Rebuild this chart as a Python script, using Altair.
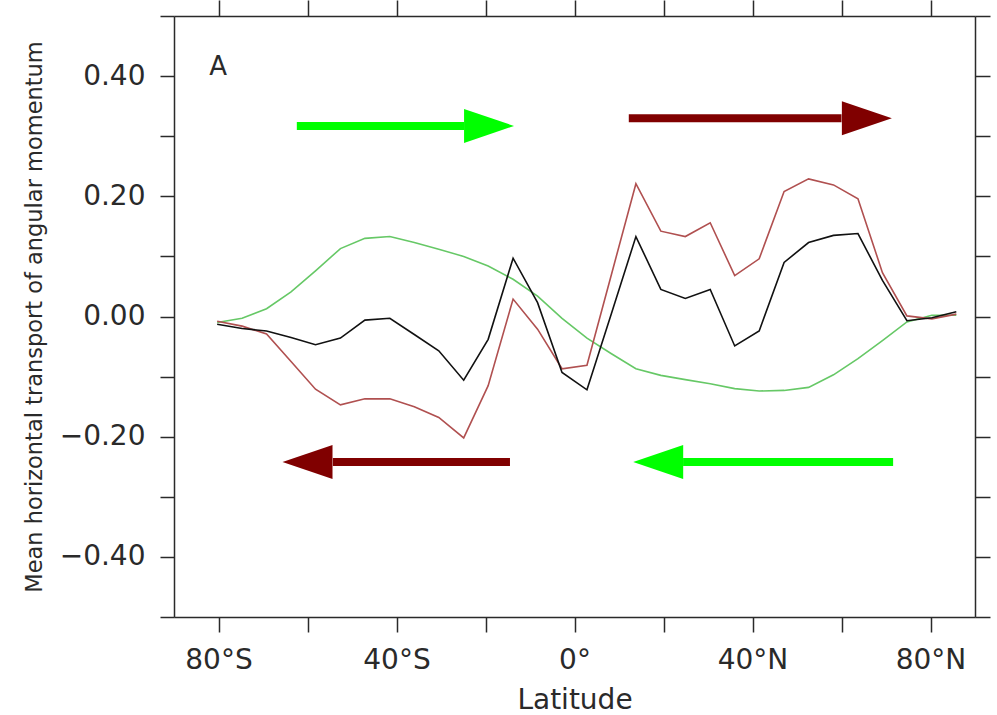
import altair as alt
import pandas as pd

# ---- data ----
lats = [-80.3, -74.7, -69.2, -63.7, -58.2, -52.6, -47.1, -41.5, -36.0, -30.5,
        -24.9, -19.4, -13.8, -8.3, -2.8, 2.8, 8.3, 13.8, 19.4, 24.9,
        30.5, 36.0, 41.5, 47.1, 52.6, 58.2, 63.7, 69.2, 74.7, 80.3, 85.8]

black_vals = [-0.013, -0.020, -0.024, -0.035, -0.047, -0.036, -0.006, -0.003, -0.030, -0.057,
              -0.106, -0.038, 0.097, 0.023, -0.093, -0.122, 0.005, 0.133, 0.045, 0.030,
              0.045, -0.049, -0.024, 0.090, 0.123, 0.135, 0.138, 0.060, -0.007, -0.002, 0.008]

red_vals = [-0.008, -0.016, -0.029, -0.075, -0.121, -0.147, -0.137, -0.137, -0.150, -0.168,
            -0.202, -0.115, 0.029, -0.021, -0.087, -0.081, 0.070, 0.221, 0.142, 0.133,
            0.156, 0.068, 0.096, 0.208, 0.229, 0.219, 0.196, 0.073, 0.001, -0.004, 0.004]

green_vals = [-0.010, -0.003, 0.013, 0.041, 0.076, 0.113, 0.130, 0.133, 0.123, 0.112,
              0.100, 0.084, 0.062, 0.034, -0.003, -0.036, -0.062, -0.087, -0.098, -0.105,
              -0.112, -0.120, -0.124, -0.123, -0.118, -0.097, -0.070, -0.040, -0.009, 0.002, 0.002]

# arrows: shaft start/end latitude, value level, head centre latitude, direction, colour
arrow_start = [-62.4, 12.2, -14.5, 71.6]
arrow_end = [-24.8, 60.0, -54.3, 24.4]
arrow_level = [0.317, 0.330, -0.242, -0.242]
arrow_head = [-19.2, 65.7, -60.0, 18.8]
arrow_dir = ["right", "right", "left", "left"]
arrow_color = ["#00ff00", "#800000", "#800000", "#00ff00"]

x_ticks = [-80, -60, -40, -20, 0, 20, 40, 60, 80]
y_ticks = [-0.5, -0.4, -0.3, -0.2, -0.1, 0.0, 0.1, 0.2, 0.3, 0.4, 0.5]

series_names = ["green", "red", "black"]
series_colors = ["#66c866", "#b05050", "#111111"]

# ---- tables ----
rows = []
for name, vals in zip(series_names, [green_vals, red_vals, black_vals]):
    for la, v in zip(lats, vals):
        rows.append({"lat": la, "value": v, "series": name})
lines_df = pd.DataFrame(rows)

arrows_df = pd.DataFrame({
    "x0": arrow_start, "x1": arrow_end, "y": arrow_level,
    "head": arrow_head, "dir": arrow_dir, "color": arrow_color,
})

FONT = "DejaVu Sans"
AX = "#2a2a2a"

xscale = alt.Scale(domain=[-90, 90], nice=False, zero=False)
yscale = alt.Scale(domain=[-0.5, 0.5], nice=False, zero=False)

x_axis = alt.Axis(
    values=x_ticks, orient="bottom", grid=False, tickSize=15, tickWidth=1.5, tickColor=AX,
    domainColor=AX, domainWidth=1.5, labelFont=FONT, labelFontSize=28,
    labelColor=AX, labelPadding=14, labelFlush=False, labelOverlap=False,
    labelExpr="datum.value % 40 != 0 ? '' : (datum.value == 0 ? '0°' : (datum.value < 0 ? (-datum.value) + '°S' : datum.value + '°N'))",
    title="Latitude", titleFont=FONT, titleFontSize=28, titleFontWeight="normal",
    titleColor=AX, titleX=400.5, titleY=91, titleBaseline="alphabetic", titleAlign="center",
)
y_axis = alt.Axis(
    values=y_ticks, orient="left", grid=False, tickSize=14, tickWidth=1.5, tickColor=AX,
    domainColor=AX, domainWidth=1.5, labelFont=FONT, labelFontSize=28,
    labelColor=AX, labelPadding=15, labelFlush=False, labelOverlap=False,
    labelExpr="(abs(datum.value) < 0.45 && abs(round(datum.value * 10)) % 2 == 0) ? format(datum.value, '.2f') : ''",
    title="Mean horizontal transport of angular momentum", titleFont=FONT,
    titleFontSize=22.5, titleFontWeight="normal", titleColor=AX,
    titleX=-140, titleY=300.5, titleAngle=270, titleAlign="center", titleBaseline="middle",
)
top_axis = alt.Axis(values=x_ticks, orient="top", labels=False, grid=False, tickSize=16,
                    tickWidth=1.5, tickColor=AX, domainColor=AX, domainWidth=1.5, title=None)
right_axis = alt.Axis(values=y_ticks, orient="right", labels=False, grid=False, tickSize=15,
                      tickWidth=1.5, tickColor=AX, domainColor=AX, domainWidth=1.5, title=None)

color_scale = alt.Scale(domain=series_names, range=series_colors)


def line_layer(name, xax, yax):
    return alt.Chart(lines_df).transform_filter(
        alt.datum.series == name
    ).mark_line(strokeWidth=1.6, clip=True).encode(
        x=alt.X("lat:Q", scale=xscale, axis=xax),
        y=alt.Y("value:Q", scale=yscale, axis=yax),
        color=alt.Color("series:N", scale=color_scale, legend=None),
    )


green_line = line_layer("green", x_axis, y_axis)
red_line = line_layer("red", top_axis, right_axis)
black_line = line_layer("black", None, None)

shafts = alt.Chart(arrows_df).mark_rule(strokeWidth=8, strokeCap="butt").encode(
    x=alt.X("x0:Q", scale=xscale, axis=None),
    x2="x1:Q",
    y=alt.Y("y:Q", scale=yscale, axis=None),
    color=alt.Color("color:N", scale=None, legend=None),
)

heads_right = alt.Chart(arrows_df).transform_filter(alt.datum.dir == "right").mark_point(
    shape="M-1,-0.68L1,0L-1,0.68Z", size=2500, filled=True, opacity=1, strokeWidth=0
).encode(
    x=alt.X("head:Q", scale=xscale, axis=None),
    y=alt.Y("y:Q", scale=yscale, axis=None),
    color=alt.Color("color:N", scale=None, legend=None),
)
heads_left = alt.Chart(arrows_df).transform_filter(alt.datum.dir == "left").mark_point(
    shape="M1,-0.68L-1,0L1,0.68Z", size=2500, filled=True, opacity=1, strokeWidth=0
).encode(
    x=alt.X("head:Q", scale=xscale, axis=None),
    y=alt.Y("y:Q", scale=yscale, axis=None),
    color=alt.Color("color:N", scale=None, legend=None),
)

panel_label = alt.Chart(pd.DataFrame({"lat": [-80.1], "value": [0.415], "t": ["A"]})).mark_text(
    font=FONT, fontSize=26, color=AX, align="center", baseline="middle"
).encode(
    x=alt.X("lat:Q", scale=xscale, axis=None),
    y=alt.Y("value:Q", scale=yscale, axis=None),
    text="t:N",
)

chart = alt.layer(
    green_line, red_line, black_line, shafts, heads_right, heads_left, panel_label
).resolve_axis(x="independent", y="independent").properties(
    width=801, height=601,
    autosize=alt.AutoSizeParams(type="none"),
    padding={"left": 174, "top": 16, "right": 22, "bottom": 98},
).configure_view(stroke=None).configure(background="white")

chart.save("out.html", embed_options={"renderer": "svg", "actions": False})
